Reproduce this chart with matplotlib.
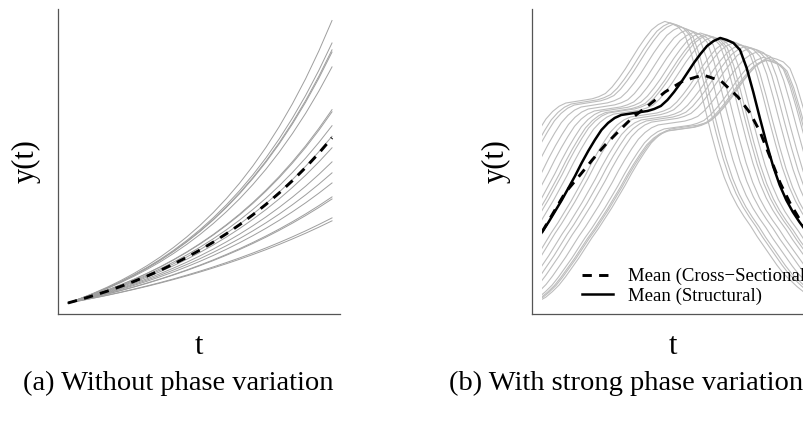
#!/usr/bin/env python3
# -*- coding: utf-8 -*-

# adding libs
import numpy as np
import matplotlib.pyplot as plt
from matplotlib.patches import Rectangle

plt.rcParams['font.family'] = ['Liberation Serif', 'DejaVu Serif']

# ---------------------------------------------------
# (a) no phase variation: mean curve sampled on t, every gray curve is the
# mean raised to its own growth exponent (all start at the same point)
t_a = [0.00, 0.05, 0.10, 0.15, 0.20, 0.25, 0.30, 0.35, 0.40, 0.45, 0.50,
       0.55, 0.60, 0.65, 0.70, 0.75, 0.80, 0.85, 0.90, 0.95, 1.00]
mean_a = [1.000, 1.078, 1.162, 1.252, 1.350, 1.455, 1.568, 1.690, 1.822,
          1.964, 2.117, 2.282, 2.460, 2.651, 2.858, 3.080, 3.320, 3.579,
          3.857, 4.158, 4.482]
growth_a = [1.293, 1.246, 1.231, 1.226, 1.192, 1.083, 1.077, 1.037, 0.968,
            0.920, 0.841, 0.783, 0.774, 0.685, 0.670, 1.005, 0.880]

# ---------------------------------------------------
# (b) strong phase variation: structural mean, gray curves are copies of it
# shifted in time (phase) and scaled in amplitude
t_b = [-0.250, -0.225, -0.200, -0.175, -0.150, -0.125, -0.100, -0.075,
       -0.050, -0.025, 0.000, 0.025, 0.050, 0.075, 0.100, 0.125, 0.150,
       0.175, 0.200, 0.225, 0.250, 0.275, 0.300, 0.325, 0.350, 0.375,
       0.400, 0.425, 0.450, 0.475, 0.500, 0.525, 0.550, 0.575, 0.600,
       0.625, 0.650, 0.675, 0.700, 0.725, 0.750, 0.775, 0.800, 0.825,
       0.850, 0.875, 0.900, 0.925, 0.950, 0.975, 1.000, 1.025, 1.050,
       1.075, 1.100, 1.125, 1.150, 1.175, 1.200, 1.225, 1.250, 1.275, 1.300]
structural_b = [0.10, 0.12, 0.14, 0.18, 0.24, 0.31, 0.40, 0.50, 0.60, 0.71,
                0.82, 0.92, 1.03, 1.14, 1.26, 1.38, 1.51, 1.63, 1.74, 1.84,
                1.91, 1.96, 1.99, 2.00, 2.01, 2.02, 2.03, 2.05, 2.08, 2.14,
                2.22, 2.31, 2.41, 2.51, 2.60, 2.68, 2.73, 2.76, 2.74, 2.71,
                2.64, 2.46, 2.22, 1.96, 1.71, 1.48, 1.29, 1.14, 1.02, 0.92,
                0.83, 0.73, 0.64, 0.55, 0.46, 0.38, 0.32, 0.26, 0.21, 0.17,
                0.14, 0.12, 0.10]
shift_b = [-0.21, -0.19, -0.178, -0.152, -0.125, -0.102, -0.076, -0.06,
           -0.049, -0.03, 0.035, 0.049, 0.076, 0.095, 0.114, 0.14, 0.163,
           0.172, 0.178, 0.189]
amp_b = [1.06, 1.055, 1.05, 1.04, 1.03, 1.02, 1.018, 1.012, 1.01, 1.004,
         0.99, 0.982, 0.975, 0.97, 0.964, 0.95, 0.93, 0.92, 0.92, 0.93]

# cross-sectional mean
t_cs = [0.00, 0.087, 0.144, 0.19, 0.239, 0.295, 0.341, 0.405, 0.466, 0.534,
        0.61, 0.678, 0.742, 0.788, 0.826, 0.856, 0.902, 0.939, 0.977, 1.00]
cross_b = [0.82, 1.21, 1.39, 1.54, 1.69, 1.84, 1.96, 2.09, 2.22, 2.33, 2.39,
           2.33, 2.17, 2.01, 1.82, 1.62, 1.31, 1.11, 0.94, 0.84]

captions = ['(a) Without phase variation', '(b) With strong phase variation']

# ---------------------------------------------------
fig = plt.figure(figsize=(8.04, 4.21), dpi=100)
ax_a = fig.add_axes([0.0721, 0.2542, 0.3507, 0.7245])
ax_b = fig.add_axes([0.6617, 0.2542, 0.3507, 0.7245])

dash = (0, (3.2, 2.5))

# panel (a)
base_a = np.array(mean_a)
for g in growth_a:
    ax_a.plot(t_a, base_a ** g, color='0.62', lw=0.7)
ax_a.plot(t_a, mean_a, color='black', lw=2.1, linestyle=dash)
ax_a.set_xlim(-0.038, 1.030)
ax_a.set_ylim(0.768, 7.20)

# panel (b)
clip = Rectangle((0, -1), 1, 5, transform=ax_b.transData)
tb = np.array(t_b)
yb = np.array(structural_b)
for s, a in zip(shift_b, amp_b):
    line, = ax_b.plot(tb + s, yb * a, color='0.74', lw=0.8)
    line.set_clip_path(clip)
line, = ax_b.plot(t_cs, cross_b, color='black', lw=2.1, linestyle=dash,
                  label='Mean (Cross\u2212Sectional)')
line.set_clip_path(clip)
line, = ax_b.plot(tb, yb, color='black', lw=1.8, label='Mean (Structural)')
line.set_clip_path(clip)
ax_b.set_xlim(-0.038, 1.030)
ax_b.set_ylim(0, 3.05)
ax_b.legend(loc='lower left', bbox_to_anchor=(0.177, 0.03), frameon=False,
            fontsize=13.5, handlelength=1.65, handletextpad=0.8,
            borderpad=0, borderaxespad=0, labelspacing=0.12)

for ax, lab_x in [(ax_a, -0.060), (ax_b, -0.074)]:
    for side in ['top', 'right']:
        ax.spines[side].set_visible(False)
    for side in ['left', 'bottom']:
        ax.spines[side].set_color('#555555')
        ax.spines[side].set_linewidth(0.9)
    ax.set_xticks([])
    ax.set_yticks([])
    ax.set_xlabel('t', fontsize=22)
    ax.set_ylabel('y(t)', fontsize=22)
    ax.xaxis.set_label_coords(0.5, -0.059)
    ax.yaxis.set_label_coords(lab_x, 0.5)

fig.text(178 / 804, 1 - 383 / 421, captions[0], fontsize=20.5,
         ha='center', va='center')
fig.text(626 / 804, 1 - 383 / 421, captions[1], fontsize=20.5,
         ha='center', va='center')

fig.savefig('out.png', dpi=100)
